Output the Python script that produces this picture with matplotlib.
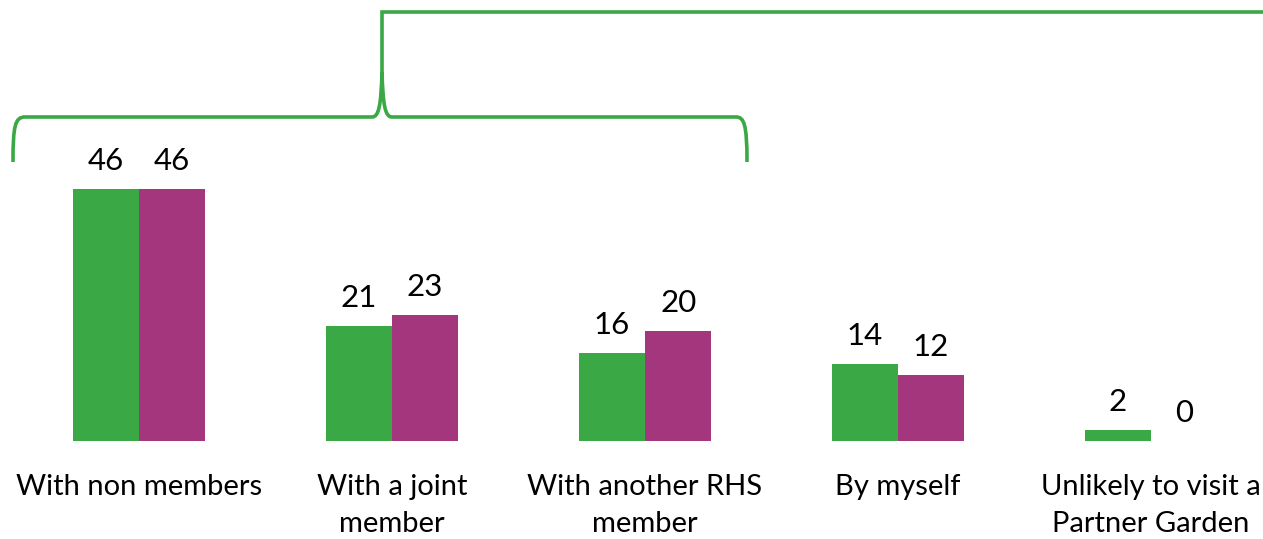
import matplotlib
matplotlib.use("Agg")
import matplotlib.pyplot as plt
from matplotlib.path import Path
from matplotlib.patches import PathPatch
import numpy as np

categories = ["With non members", "With a joint\nmember", "With another RHS\nmember",
              "By myself", "Unlikely to visit a\nPartner Garden"]
series_a = [46, 21, 16, 14, 2]
series_b = [46, 23, 20, 12, 0]

GREEN = "#39A845"
PURPLE = "#A3367D"
FONT = "Lato"
PX = 0.72  # points per pixel at dpi 100

W, H = 1263, 539
fig = plt.figure(figsize=(W / 100, H / 100), dpi=100)
ax = fig.add_axes([0, 0, 1, 1])
x = np.arange(len(categories))
bw = 0.262
ax.bar(x - bw / 2, series_a, bw, color=GREEN)
ax.bar(x + bw / 2, series_b, bw, color=PURPLE)
ax.set_xlim(-139 / 253, (W - 139) / 253)
ax.set_ylim(-98 / 5.478, (H - 98) / 5.478)
ax.axis("off")

for xs, vals in ((x - bw / 2, series_a), (x + bw / 2, series_b)):
    for xi, v in zip(xs, vals):
        ax.annotate(str(v), (xi, v), xytext=(0, 19 * PX), textcoords="offset points",
                    ha="center", va="baseline", fontsize=22.5, family=FONT)
for xi, lab in zip(x, categories):
    for k, line in enumerate(lab.split("\n")):
        ax.annotate(line, (xi, 0), xytext=(0, -(54 + 37 * k) * PX), textcoords="offset points",
                    ha="center", va="baseline", fontsize=21, family=FONT)

# bracket overlay in pixel coordinates
ov = fig.add_axes([0, 0, 1, 1], facecolor="none")
ov.set_xlim(0, W)
ov.set_ylim(H, 0)
ov.axis("off")
verts = [(13, 162), (13, 126), (15, 117), (25, 117),
         (372, 117),
         (379, 117), (381, 105), (382, 72),
         (383, 105), (385, 117), (392, 117),
         (736, 117),
         (744, 117), (747, 124), (747, 162)]
codes = [Path.MOVETO, Path.CURVE4, Path.CURVE4, Path.CURVE4,
         Path.LINETO,
         Path.CURVE4, Path.CURVE4, Path.CURVE4,
         Path.CURVE4, Path.CURVE4, Path.CURVE4,
         Path.LINETO,
         Path.CURVE4, Path.CURVE4, Path.CURVE4]
ov.add_patch(PathPatch(Path(verts, codes), fill=False, edgecolor=GREEN, lw=2.6))
ov.plot([382, 382, W], [72, 12, 12], color=GREEN, lw=2.6, solid_joinstyle="miter")

fig.savefig("out.png", dpi=100)
